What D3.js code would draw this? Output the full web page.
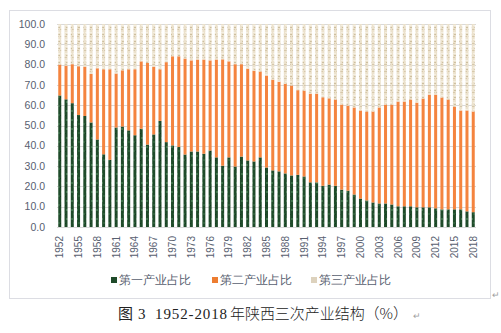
<!DOCTYPE html>
<html>
<head>
<meta charset="utf-8">
<script src="https://cdn.jsdelivr.net/npm/d3@7"></script>
<style>
  body { margin: 0; background: #fff; }
  text { font-family: "Liberation Sans", Arial, sans-serif; }
</style>
</head>
<body>
<script>
// categories
var years = d3.range(1952, 2019);
var tickYears = [1952, 1955, 1958, 1961, 1964, 1967, 1970, 1973, 1976, 1979, 1982, 1985,
                 1988, 1991, 1994, 1997, 2000, 2003, 2006, 2009, 2012, 2015, 2018];
var yTicks = [0, 10, 20, 30, 40, 50, 60, 70, 80, 90, 100];
var seriesNames = ["第一产业占比", "第二产业占比", "第三产业占比"];

// share of each industry, %
var primary = [64.8, 62.9, 61.0, 55.2, 54.7, 51.5, 43.1, 35.8, 33.1,
  49.0, 49.5, 47.6, 45.2, 48.4, 40.6, 45.6, 52.3, 41.8, 40.2,
  39.4, 35.7, 37.2, 37.2, 36.1, 37.7, 34.3, 30.2, 34.3, 29.8,
  34.7, 32.8, 32.3, 34.3, 29.3, 27.9, 27.4, 26.4, 25.4, 25.7,
  24.9, 22.0, 22.0, 20.3, 20.9, 20.3, 18.4, 17.9, 16.0, 14.0,
  13.1, 12.1, 11.6, 11.6, 11.1, 10.2, 10.2, 10.2, 9.7, 9.7,
  9.7, 9.2, 8.7, 8.7, 8.7, 8.7, 7.7, 7.3];
var secondary = [15.2, 16.6, 19.2, 24.0, 24.3, 23.9, 35.1, 41.9, 44.6,
  26.6, 27.7, 30.1, 32.5, 33.2, 40.2, 33.4, 25.4, 39.4, 43.9,
  44.7, 47.3, 44.9, 45.3, 46.4, 44.4, 48.2, 52.4, 47.3, 50.4,
  45.5, 45.2, 44.7, 42.3, 45.3, 44.7, 44.2, 44.1, 44.3, 41.7,
  42.3, 43.7, 43.7, 43.6, 42.5, 42.5, 41.9, 41.9, 42.9, 43.4,
  43.8, 44.8, 47.3, 48.7, 49.2, 51.6, 51.6, 52.6, 51.6, 53.6,
  55.5, 56.0, 55.1, 54.1, 50.6, 48.7, 49.7, 49.6];
var tertiary = [20.0, 20.5, 19.8, 20.8, 21.0, 24.6, 21.8, 22.3, 22.3,
  24.4, 22.8, 22.3, 22.3, 18.4, 19.2, 21.0, 22.3, 18.8, 15.9,
  15.9, 17.0, 17.9, 17.5, 17.5, 17.9, 17.5, 17.4, 18.4, 19.8,
  19.8, 22.0, 23.0, 23.4, 25.4, 27.4, 28.4, 29.5, 30.3, 32.6,
  32.8, 34.3, 34.3, 36.1, 36.6, 37.2, 39.7, 40.2, 41.1, 42.6,
  43.1, 43.1, 41.1, 39.7, 39.7, 38.2, 38.2, 37.2, 38.7, 36.7,
  34.8, 34.8, 36.2, 37.2, 40.7, 42.6, 42.6, 43.1];

var W = 501, H = 333;
var margin = {top: 24, right: 25, bottom: 106, left: 57};
var textColor = "#586070";

var svg = d3.select("body").append("svg")
  .attr("width", W)
  .attr("height", H);

// textures roughly like the office fills
var defs = svg.append("defs");
var pg = defs.append("pattern").attr("id", "green")
  .attr("patternUnits", "userSpaceOnUse").attr("width", 5).attr("height", 9);
pg.append("rect").attr("width", 5).attr("height", 9).attr("fill", "#1f4b2a");
pg.append("rect").attr("x", 1).attr("y", 2).attr("width", 2).attr("height", 2).attr("fill", "#3d7149");
pg.append("rect").attr("x", 3).attr("y", 6).attr("width", 2).attr("height", 2).attr("fill", "#2f613b");
pg.append("rect").attr("x", 0).attr("y", 7).attr("width", 1).attr("height", 1).attr("fill", "#14391e");

var pb = defs.append("pattern").attr("id", "beige")
  .attr("patternUnits", "userSpaceOnUse").attr("width", 4).attr("height", 7);
pb.append("rect").attr("width", 4).attr("height", 7).attr("fill", "#ebe1cc");
pb.append("rect").attr("x", 0).attr("y", 1).attr("width", 3).attr("height", 1).attr("fill", "#d6c8ab");
pb.append("rect").attr("x", 1).attr("y", 4).attr("width", 3).attr("height", 1).attr("fill", "#f4eee0");
pb.append("rect").attr("x", 2).attr("y", 6).attr("width", 2).attr("height", 1).attr("fill", "#cdbf9f");

var colors = ["url(#green)", "#f4843f", "url(#beige)"];
var legendColors = ["#1f4b2a", "#ed7d31", "#ddd2bd"];

// chart frame
svg.append("rect")
  .attr("x", 9.5).attr("y", 10.5)
  .attr("width", 481).attr("height", 288)
  .attr("fill", "none")
  .attr("stroke", "#dcdde3");

var x = d3.scaleBand()
  .domain(years)
  .range([margin.left, W - margin.right - 0])
  .paddingInner(0.52)
  .paddingOuter(0.2);

var y = d3.scaleLinear()
  .domain([0, 100])
  .range([227, 24]);

// gridlines
svg.append("g").selectAll("line")
  .data(yTicks).enter()
  .append("line")
  .attr("x1", margin.left).attr("x2", W - margin.right)
  .attr("y1", function(d) { return Math.round(y(d)) + 0.5; })
  .attr("y2", function(d) { return Math.round(y(d)) + 0.5; })
  .attr("stroke", "#d9d9d9");

// y labels
svg.append("g").selectAll("text")
  .data(yTicks).enter()
  .append("text")
  .attr("x", 45)
  .attr("y", function(d) { return y(d); })
  .attr("dy", "0.35em")
  .attr("text-anchor", "end")
  .attr("font-size", "10.5px")
  .attr("fill", textColor)
  .text(function(d) { return d.toFixed(1); });

// stacked bars
var rows = years.map(function(yr, i) {
  return {year: yr, a: primary[i], b: secondary[i], c: tertiary[i]};
});
var stack = d3.stack().keys(["a", "b", "c"]);
var layers = stack(rows);

svg.append("g").selectAll("g")
  .data(layers).enter()
  .append("g")
  .attr("fill", function(d, i) { return colors[i]; })
  .selectAll("rect")
  .data(function(d) { return d; }).enter()
  .append("rect")
  .attr("x", function(d) { return x(d.data.year); })
  .attr("width", x.bandwidth())
  .attr("y", function(d) { return y(d[1]); })
  .attr("height", function(d) { return y(d[0]) - y(d[1]); });

// x labels, every third year, rotated
svg.append("g").selectAll("text")
  .data(tickYears).enter()
  .append("text")
  .attr("transform", function(d) {
    return "translate(" + (x(d) + x.bandwidth() / 2) + ",236) rotate(-90)";
  })
  .attr("dy", "0.35em")
  .attr("text-anchor", "end")
  .attr("font-size", "10px")
  .attr("fill", textColor)
  .text(function(d) { return d; });

// legend
var legendX = [111, 212, 311];
var legend = svg.append("g").selectAll("g")
  .data(seriesNames).enter()
  .append("g")
  .attr("transform", function(d, i) { return "translate(" + legendX[i] + ",280)"; });
legend.append("rect")
  .attr("x", 0).attr("y", -3)
  .attr("width", 6).attr("height", 6)
  .attr("fill", function(d, i) { return legendColors[i]; });
legend.append("text")
  .attr("x", 8)
  .attr("dy", "0.36em")
  .attr("font-family", "'Noto Sans CJK SC', sans-serif")
  .attr("font-size", "12px")
  .attr("fill", textColor)
  .text(function(d) { return d; });

// paragraph marks and caption
svg.append("text")
  .attr("x", 492).attr("y", 298)
  .attr("font-size", "9px").attr("fill", "#a0a0a0")
  .text("↵");

var cap = svg.append("text")
  .attr("y", 319)
  .attr("font-size", "15px")
  .attr("fill", "#222");
cap.append("tspan").attr("x", 118)
  .attr("font-family", "'Noto Sans CJK SC', sans-serif").text("图");
cap.append("tspan").attr("x", 138)
  .attr("font-family", "'Liberation Serif', serif").text("3");
cap.append("tspan").attr("x", 155)
  .attr("font-family", "'Liberation Serif', serif")
  .attr("textLength", 72).attr("lengthAdjust", "spacing")
  .text("1952-2018");
cap.append("tspan").attr("x", 230)
  .attr("font-family", "'Noto Sans CJK SC', sans-serif")
  .attr("font-weight", 300)
  .attr("textLength", 178).attr("lengthAdjust", "spacing")
  .text("年陕西三次产业结构（%）");
cap.append("tspan").attr("x", 413)
  .attr("font-size", "9px").attr("fill", "#a0a0a0").text("↵");
</script>
</body>
</html>
